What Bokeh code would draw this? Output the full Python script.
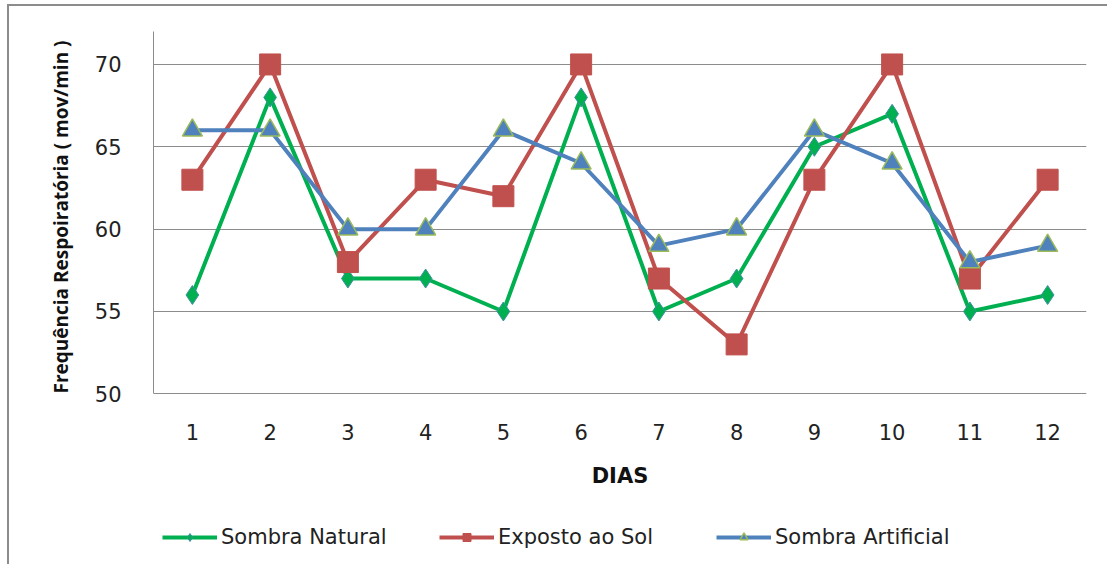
from bokeh.plotting import figure
from bokeh.models import Legend, LegendItem, FactorRange, Range1d, FixedTicker, Title
from bokeh.embed import file_html
from bokeh.resources import INLINE

dias = ["1", "2", "3", "4", "5", "6", "7", "8", "9", "10", "11", "12"]
sombra_natural = [56, 68, 57, 57, 55, 68, 55, 57, 65, 67, 55, 56]
exposto_sol = [63, 70, 58, 63, 62, 70, 57, 53, 63, 70, 57, 63]
sombra_artificial = [66, 66, 60, 60, 66, 64, 59, 60, 66, 64, 58, 59]
y_ticks = [50, 55, 60, 65, 70]

FONT = "DejaVu Sans"

p = figure(
    x_range=FactorRange(*dias, range_padding=0),
    y_range=Range1d(40, 72),
    width=1100, height=560,
    output_backend="svg", toolbar_location=None,
    min_border_left=144, min_border_right=23, min_border_top=25, min_border_bottom=8,
)
p.styles = {"margin-left": "7px", "margin-top": "4px",
            "border-left": "2px solid #8c8c8c", "border-top": "2px solid #8c8c8c"}
p.outline_line_color = None
p.background_fill_color = "white"

# axes
p.yaxis.ticker = FixedTicker(ticks=y_ticks)
p.yaxis.bounds = (50, 72)
p.yaxis.major_tick_line_color = None
p.yaxis.minor_tick_line_color = None
p.yaxis.axis_line_color = "#8c8c8c"
p.yaxis.major_label_text_font = FONT
p.yaxis.major_label_text_font_size = "21px"
p.yaxis.major_label_text_color = "#222222"
p.yaxis.major_label_standoff = 26

ylabel = Title(
    text="Frequência Respoiratória ( mov/min )",
    align="right", vertical_align="bottom", offset=9, standoff=36,
    text_font="Open Sans", text_font_style="bold", text_font_size="19px",
    text_color="#111111",
)
p.add_layout(ylabel, "left")

p.xaxis.fixed_location = 50
p.xaxis.axis_line_color = None
p.xaxis.major_tick_line_color = None
p.xaxis.minor_tick_line_color = None
p.xaxis.major_label_text_font = FONT
p.xaxis.major_label_text_font_size = "21px"
p.xaxis.major_label_text_color = "#222222"
p.xaxis.major_label_standoff = 24
p.xaxis.axis_label = "DIAS"
p.xaxis.axis_label_text_font = FONT
p.xaxis.axis_label_text_font_style = "bold"
p.xaxis.axis_label_text_font_size = "21px"
p.xaxis.axis_label_text_color = "#111111"
p.xaxis.axis_label_standoff = 21

p.xgrid.grid_line_color = None
p.ygrid.ticker = FixedTicker(ticks=y_ticks)
p.ygrid.grid_line_color = "#8c8c8c"
p.ygrid.grid_line_width = 1

green = "#00B050"
red = "#C0504D"
blue = "#4F81BD"

l1 = p.line(dias, sombra_natural, line_color=green, line_width=4)
m1 = p.scatter(dias, sombra_natural, marker="diamond", size=19, fill_color=green,
               line_color="#3f8fa0", line_width=1)
l2 = p.line(dias, exposto_sol, line_color=red, line_width=4)
m2 = p.scatter(dias, exposto_sol, marker="square", size=21, fill_color=red,
               line_color=red, line_width=1)
l3 = p.line(dias, sombra_artificial, line_color=blue, line_width=4)
m3 = p.scatter(dias, sombra_artificial, marker="triangle", size=20, fill_color=blue,
               line_color="#9BBB59", line_width=1.5)

legend = Legend(
    items=[
        LegendItem(label="Sombra Natural", renderers=[l1, m1]),
        LegendItem(label="Exposto ao Sol", renderers=[l2, m2]),
        LegendItem(label="Sombra Artificial", renderers=[l3, m3]),
    ],
    orientation="horizontal",
    location=(9, 9),
    padding=0, margin=0, spacing=30, label_width=188,
    glyph_width=55, glyph_height=20, label_standoff=4,
    label_text_font=FONT, label_text_font_size="21px", label_text_color="#222222",
    border_line_color=None, background_fill_alpha=0,
)
p.add_layout(legend, "center")

open("out.html", "w").write(file_html(p, INLINE))
